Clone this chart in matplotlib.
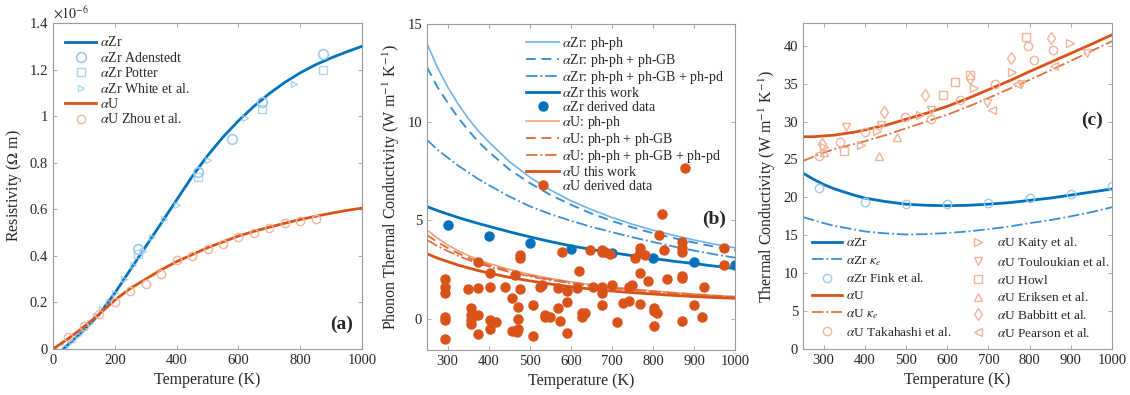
import matplotlib
matplotlib.use("Agg")
import matplotlib.pyplot as plt
from matplotlib.ticker import FuncFormatter

# ---------------- data ----------------
# (a) resistivity, values in units of 1e-6 Ohm m
zr_T = [0, 25, 50, 100, 150, 200, 250, 300, 350, 400, 450, 500, 550, 600, 650, 700, 750, 800, 850, 900, 950, 1000]
zr_rho = [-0.01, -0.01, 0.02, 0.08, 0.15, 0.24, 0.34, 0.44, 0.54, 0.64, 0.74, 0.83, 0.91, 0.98, 1.042, 1.097, 1.145, 1.186, 1.221, 1.25, 1.276, 1.30]
u_T = [0, 50, 100, 150, 200, 250, 300, 350, 400, 450, 500, 550, 600, 650, 700, 750, 800, 850, 900, 950, 1000]
u_rho = [0.0, 0.045, 0.095, 0.15, 0.21, 0.26, 0.30, 0.34, 0.375, 0.405, 0.435, 0.46, 0.485, 0.505, 0.523, 0.54, 0.556, 0.57, 0.583, 0.595, 0.605]

adenstedt_T = [276, 470, 578, 675, 874]
adenstedt_rho = [0.43, 0.76, 0.90, 1.06, 1.265]
potter_T = [276, 470, 675, 874]
potter_rho = [0.41, 0.74, 1.03, 1.20]
white_T = [20, 40, 60, 80, 100, 120, 140, 160, 180, 200, 230, 260, 290, 320, 360, 400, 500, 620, 780]
white_rho = [-0.01, 0.01, 0.035, 0.06, 0.085, 0.11, 0.14, 0.17, 0.20, 0.24, 0.30, 0.36, 0.42, 0.48, 0.56, 0.62, 0.81, 0.99, 1.14]
zhou_T = [50, 100, 150, 200, 250, 300, 350, 400, 450, 500, 550, 600, 650, 700, 750, 800, 850]
zhou_rho = [0.05, 0.10, 0.15, 0.20, 0.25, 0.28, 0.32, 0.38, 0.40, 0.43, 0.45, 0.48, 0.50, 0.52, 0.54, 0.55, 0.56]

# temperature grid shared by the model curves of (b) and (c)
T_grid = [250, 275, 300, 325, 350, 375, 400, 450, 500, 550, 600, 650, 700, 750, 800, 850, 900, 950, 1000]

# (b) phonon thermal conductivity
zr_phph = [14.0, 12.8, 11.8, 10.95, 10.2, 9.55, 9.0, 8.0, 7.2, 6.55, 6.0, 5.55, 5.15, 4.8, 4.5, 4.24, 4.0, 3.79, 3.6]
zr_gb = [12.8, 11.8, 11.0, 10.25, 9.6, 9.0, 8.5, 7.6, 6.9, 6.3, 5.8, 5.35, 4.97, 4.64, 4.35, 4.1, 3.87, 3.66, 3.47]
zr_pd = [9.1, 8.6, 8.2, 7.8, 7.45, 7.1, 6.8, 6.22, 5.72, 5.32, 4.98, 4.67, 4.4, 4.14, 3.9, 3.67, 3.46, 3.27, 3.1]
zr_work = [5.7, 5.5, 5.32, 5.15, 4.99, 4.84, 4.7, 4.42, 4.16, 3.92, 3.7, 3.52, 3.36, 3.2, 3.06, 2.92, 2.8, 2.67, 2.55]
u_phph = [4.5, 4.1, 3.75, 3.46, 3.21, 3.0, 2.81, 2.5, 2.25, 2.04, 1.87, 1.73, 1.6, 1.5, 1.41, 1.32, 1.25, 1.18, 1.12]
u_gb = [4.25, 3.9, 3.6, 3.33, 3.1, 2.9, 2.72, 2.43, 2.19, 2.0, 1.83, 1.69, 1.57, 1.47, 1.38, 1.3, 1.23, 1.16, 1.1]
u_pd = [4.0, 3.7, 3.44, 3.2, 2.99, 2.81, 2.65, 2.38, 2.15, 1.96, 1.8, 1.66, 1.54, 1.44, 1.35, 1.27, 1.2, 1.14, 1.08]
u_work = [3.3, 3.08, 2.9, 2.73, 2.58, 2.44, 2.32, 2.1, 1.92, 1.76, 1.62, 1.5, 1.4, 1.32, 1.25, 1.18, 1.12, 1.07, 1.03]

zr_der_T = [300, 400, 500, 600, 700, 800, 900, 1000]
zr_der_k = [4.77, 4.18, 3.85, 3.55, 3.35, 3.1, 2.9, 2.75]

u_der_T = [293, 293, 293, 293, 293, 293, 350, 358, 358, 358, 358, 375, 375, 375, 375,
           403, 403, 403, 403, 419, 440, 456, 456, 464, 468, 472, 472, 472, 476, 476, 476,
           509, 509, 525, 529, 537, 537, 550, 570, 570, 574, 578, 590, 590, 590, 615, 619,
           627, 627, 635, 647, 655, 676, 676, 676, 676, 676, 684, 696, 700, 712, 728, 741, 741,
           749, 757, 769, 769, 769, 769, 781, 789, 802, 802, 802, 810, 814, 822, 826, 834,
           871, 871, 871, 871, 871, 871, 878, 899, 920, 924, 972, 972]
u_der_k = [2.0, 1.6, 1.3, 0.1, -0.05, -1.05, 1.5, 0.55, 0.2, -0.05, -0.3, 2.9, 1.55, 0.2, -0.8,
           2.3, 1.6, -0.05, -0.55, -0.2, 1.6, 1.05, -0.65, 2.2, -0.7, 0.6, 0.0, -0.55, 3.25, 3.1, 1.5,
           0.7, -0.9, 1.6, 1.7, 0.2, 0.1, 0.1, 1.55, 0.55, -0.15, 3.4, 1.4, 0.85, -0.75, 1.55, 2.4,
           0.1, 0.3, 0.3, 3.5, 1.6, 3.5, 3.4, 1.6, 1.3, 0.7, 3.4, 3.3, 1.7, -0.2, 0.8, 0.9, 1.6,
           1.7, 3.1, 3.6, 3.4, 2.3, 0.75, 3.25, 1.9, 0.55, 0.4, -0.4, 0.3, 4.25, 5.3, 3.5, 2.0,
           3.9, 3.6, 3.4, 2.05, 2.15, -0.15, 7.66, 0.7, 0.1, 1.6, 3.6, 2.75]

# (c) total thermal conductivity
zr_tot = [23.2, 22.4, 21.7, 21.15, 20.7, 20.28, 19.9, 19.45, 19.1, 18.95, 18.9, 18.95, 19.1, 19.3, 19.6, 19.9, 20.3, 20.7, 21.1]
zr_ke = [17.4, 17.0, 16.6, 16.25, 16.0, 15.75, 15.5, 15.25, 15.1, 15.15, 15.3, 15.5, 15.8, 16.15, 16.6, 17.0, 17.5, 18.05, 18.7]
u_tot = [28.0, 28.0, 28.1, 28.2, 28.4, 28.6, 28.9, 29.5, 30.3, 31.1, 32.0, 33.05, 34.2, 35.35, 36.6, 37.8, 39.0, 40.2, 41.45]
u_ke = [24.8, 25.35, 25.9, 26.35, 26.7, 27.05, 27.4, 28.2, 29.1, 30.0, 30.9, 31.95, 33.1, 34.3, 35.5, 36.75, 38.0, 39.3, 40.6]

fink_T = [290, 400, 500, 600, 700, 800, 900, 1000]
fink_k = [21.2, 19.4, 19.1, 19.1, 19.3, 19.9, 20.4, 21.5]
takahashi_T = [290, 340, 400, 498, 560, 632, 717, 795, 811, 856]
takahashi_k = [25.4, 27.3, 28.6, 30.6, 30.4, 32.8, 35.0, 39.9, 38.1, 39.5]
kaity_T = [300, 390, 430, 535, 664, 758, 897]
kaity_k = [26.6, 26.9, 28.7, 30.9, 34.4, 36.6, 40.3]
touloukian_T = [355, 440, 560, 697, 778, 940]
touloukian_k = [29.3, 29.6, 31.5, 32.4, 35.0, 39.0]
howl_T = [350, 590, 620, 656, 791]
howl_k = [26.1, 33.5, 35.2, 36.2, 41.2]
eriksen_T = [300, 435, 477]
eriksen_k = [26.0, 25.5, 28.0]
babbitt_T = [295, 447, 547, 656, 754, 852]
babbitt_k = [27.0, 31.3, 33.5, 35.8, 38.4, 41.0]
pearson_T = [709, 770, 860]
pearson_k = [31.5, 35.0, 37.3]

# ---------------- style ----------------
plt.rcParams["font.family"] = ["Liberation Serif", "DejaVu Serif"]
plt.rcParams["mathtext.fontset"] = "stix"
plt.rcParams["font.size"] = 10
plt.rcParams["text.color"] = "#262626"
plt.rcParams["axes.labelcolor"] = "#262626"

blue = "#0072BD"
lblue = "#6fb3e6"
mblue = "#3a8fd4"
orange = "#D95319"
lorange = "#eea07c"
morange = "#e07040"
fblue = "#9ccbee"
forange = "#f2b49a"

fig = plt.figure(figsize=(11.3, 3.95), dpi=100)
ax1 = fig.add_axes([0.0469, 0.1165, 0.2735, 0.8253])
ax2 = fig.add_axes([0.3779, 0.1140, 0.2726, 0.8253])
ax3 = fig.add_axes([0.7106, 0.1165, 0.2735, 0.8253])


def style_axes(ax):
    for s in ax.spines.values():
        s.set_color("#9a9a9a")
        s.set_linewidth(0.8)
    ax.tick_params(direction="in", top=True, right=True, length=3, width=0.6,
                   colors="#9a9a9a", labelcolor="#262626", labelsize=10.5)
    ax.set_xlabel("Temperature (K)", fontsize=11.5)


# ---- (a) ----
ax1.plot(zr_T, zr_rho, color=blue, lw=2, label=r"$\alpha$Zr")
ax1.plot(adenstedt_T, adenstedt_rho, "o", mfc="none", mec=fblue, ms=7, mew=1.2, label=r"$\alpha$Zr Adenstedt")
ax1.plot(potter_T, potter_rho, "s", mfc="none", mec=fblue, ms=6, mew=1.0, alpha=0.8, label=r"$\alpha$Zr Potter")
ax1.plot(white_T, white_rho, ">", mfc="none", mec=fblue, ms=5, mew=1.0, alpha=0.8, label=r"$\alpha$Zr White et al.")
ax1.plot(u_T, u_rho, color=orange, lw=2, label=r"$\alpha$U")
ax1.plot(zhou_T, zhou_rho, "o", mfc="none", mec=forange, ms=6, mew=1.0, label=r"$\alpha$U Zhou et al.")
ax1.set_xlim(0, 1000)
ax1.set_ylim(0, 1.4)
ax1.set_xticks([0, 200, 400, 600, 800, 1000])
ax1.set_yticks([0, 0.2, 0.4, 0.6, 0.8, 1.0, 1.2, 1.4])
ax1.yaxis.set_major_formatter(FuncFormatter(lambda v, p: "%g" % v))
ax1.set_ylabel(r"Resistivity ($\Omega$ m)", fontsize=11.5)
ax1.text(0.0, 1.005, r"$\times10^{-6}$", transform=ax1.transAxes, fontsize=10, va="bottom")
ax1.text(0.97, 0.05, "(a)", transform=ax1.transAxes, fontsize=14, fontweight="bold", ha="right", va="bottom")
ax1.legend(loc="upper left", frameon=False, fontsize=10, handlelength=2.2, labelspacing=0.1,
           borderaxespad=0.5, handletextpad=0.3)
style_axes(ax1)

# ---- (b) ----
ax2.plot(T_grid, zr_phph, color=lblue, lw=1.2, label=r"$\alpha$Zr: ph-ph")
ax2.plot(T_grid, zr_gb, color=mblue, lw=1.4, ls=(0, (5, 3)), label=r"$\alpha$Zr: ph-ph + ph-GB")
ax2.plot(T_grid, zr_pd, color=mblue, lw=1.3, ls="-.", label=r"$\alpha$Zr: ph-ph + ph-GB + ph-pd")
ax2.plot(T_grid, zr_work, color=blue, lw=2, label=r"$\alpha$Zr this work")
ax2.plot(zr_der_T, zr_der_k, "o", color=blue, ms=6.5, ls="none", label=r"$\alpha$Zr derived data")
ax2.plot(T_grid, u_phph, color=lorange, lw=1.2, label=r"$\alpha$U: ph-ph")
ax2.plot(T_grid, u_gb, color=morange, lw=1.4, ls=(0, (5, 3)), label=r"$\alpha$U: ph-ph + ph-GB")
ax2.plot(T_grid, u_pd, color=morange, lw=1.3, ls="-.", label=r"$\alpha$U: ph-ph + ph-GB + ph-pd")
ax2.plot(T_grid, u_work, color=orange, lw=2, label=r"$\alpha$U this work")
ax2.plot(u_der_T, u_der_k, "o", color=orange, ms=6.5, ls="none", label=r"$\alpha$U derived data")
ax2.set_xlim(250, 1000)
ax2.set_ylim(-1.6, 15)
ax2.set_xticks([300, 400, 500, 600, 700, 800, 900, 1000])
ax2.set_yticks([0, 5, 10, 15])
ax2.set_ylabel(r"Phonon Thermal Conductivity (W m$^{-1}$ K$^{-1}$)", fontsize=11.5)
ax2.text(0.97, 0.40, "(b)", transform=ax2.transAxes, fontsize=14, fontweight="bold", ha="right", va="center")
ax2.legend(loc="upper right", frameon=False, fontsize=10, handlelength=2.4, labelspacing=0.0,
           borderaxespad=0.4, handletextpad=0.2)
style_axes(ax2)

# ---- (c) ----
ax3.plot(T_grid, zr_tot, color=blue, lw=2, label=r"$\alpha$Zr")
ax3.plot(T_grid, zr_ke, color=mblue, lw=1.3, ls="-.", label=r"$\alpha$Zr $\kappa_e$")
ax3.plot(fink_T, fink_k, "o", mfc="none", mec=fblue, ms=6, mew=1.0, ls="none", label=r"$\alpha$Zr Fink et al.")
ax3.plot(T_grid, u_tot, color=orange, lw=2, label=r"$\alpha$U")
ax3.plot(T_grid, u_ke, color=morange, lw=1.3, ls="-.", label=r"$\alpha$U $\kappa_e$")
mk = dict(mfc="none", mec=forange, ms=6, mew=1.0, ls="none")
ax3.plot(takahashi_T, takahashi_k, "o", label=r"$\alpha$U Takahashi et al.", **mk)
ax3.plot(kaity_T, kaity_k, ">", label=r"$\alpha$U Kaity et al.", **mk)
ax3.plot(touloukian_T, touloukian_k, "v", label=r"$\alpha$U Touloukian et al.", **mk)
ax3.plot(howl_T, howl_k, "s", label=r"$\alpha$U Howl", **mk)
ax3.plot(eriksen_T, eriksen_k, "^", label=r"$\alpha$U Eriksen et al.", **mk)
ax3.plot(babbitt_T, babbitt_k, "d", label=r"$\alpha$U Babbitt et al.", **mk)
ax3.plot(pearson_T, pearson_k, "<", label=r"$\alpha$U Pearson et al.", **mk)
ax3.set_xlim(250, 1000)
ax3.set_ylim(0, 43)
ax3.set_xticks([300, 400, 500, 600, 700, 800, 900, 1000])
ax3.set_yticks([0, 5, 10, 15, 20, 25, 30, 35, 40])
ax3.set_ylabel(r"Thermal Conductivity (W m$^{-1}$ K$^{-1}$)", fontsize=11.5)
ax3.text(0.97, 0.70, "(c)", transform=ax3.transAxes, fontsize=14, fontweight="bold", ha="right", va="center")
ax3.legend(loc="lower left", ncol=2, frameon=False, fontsize=9.6, handlelength=2.2, labelspacing=0.35,
           borderaxespad=0.3, handletextpad=0.3, columnspacing=0.9)
style_axes(ax3)

fig.savefig("out.png", dpi=100)
